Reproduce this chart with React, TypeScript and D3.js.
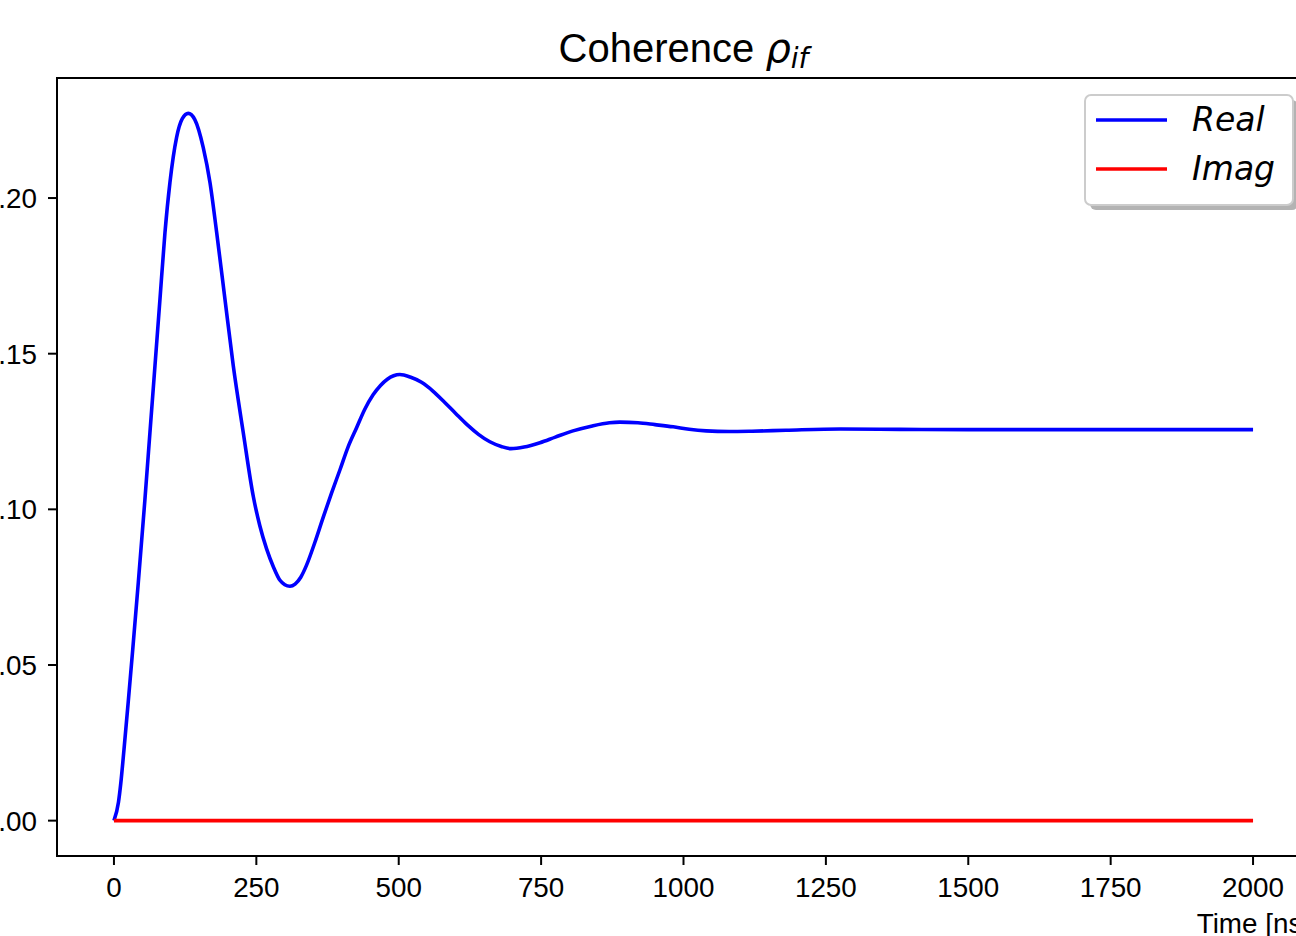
import React, { useEffect, useRef } from "react";
import * as d3 from "d3";

// time [ns] and real part
const realTimes = [0, 8, 12, 17.6, 25, 33, 42.7, 54.4, 63.2, 72, 80.8, 89.6, 98.3, 110, 120, 130.5, 142, 156.8, 168.6, 180.3, 194.9, 209.5, 227, 244.6, 256, 268, 280, 291.5, 300, 309, 318, 328, 338, 353, 367.5, 382, 397, 411, 426, 440, 455, 468, 480, 491, 502, 520, 540, 560, 580, 600, 620, 640, 660, 680, 697, 720, 748, 775, 806, 840, 870, 888, 920, 950, 982, 1010, 1040, 1080, 1120, 1180, 1275, 1380, 1500, 1750, 2000];
const realValues = [0, 0.006, 0.012, 0.0228, 0.038, 0.055, 0.0764, 0.1032, 0.1247, 0.1461, 0.1675, 0.189, 0.205, 0.2195, 0.2255, 0.2272, 0.2252, 0.2162, 0.205, 0.189, 0.1675, 0.1461, 0.1247, 0.1042, 0.0948, 0.0873, 0.0815, 0.0772, 0.0758, 0.0753, 0.076, 0.0782, 0.082, 0.0895, 0.0975, 0.1052, 0.1128, 0.12, 0.1262, 0.132, 0.1368, 0.1398, 0.1418, 0.1429, 0.1433, 0.1425, 0.1408, 0.138, 0.1345, 0.1308, 0.1272, 0.1241, 0.1217, 0.1202, 0.1195, 0.12, 0.1214, 0.1232, 0.1252, 0.1268, 0.1278, 0.128, 0.1278, 0.1272, 0.1265, 0.1257, 0.1252, 0.125, 0.1251, 0.1254, 0.1258, 0.1257, 0.1256, 0.1256, 0.1256];
const imagTimes = [0, 2000];
const imagValues = [0, 0];

const xTicks = [0, 250, 500, 750, 1000, 1250, 1500, 1750, 2000];
const yTicks = [0, 0.05, 0.1, 0.15, 0.2];

const W = 1296;
const H = 936;

export default function App() {
  const ref = useRef<SVGSVGElement>(null);

  useEffect(() => {
    const left = 57, right = 1310, top = 78, bottom = 856;
    const svg = d3.select(ref.current);
    svg.selectAll("*").remove();

    const x = d3.scaleLinear().domain([-100, 2100]).range([left, right]);
    const vmax = d3.max(realValues) as number;
    const y = d3.scaleLinear().domain([-vmax * 0.05, vmax * 1.05]).range([bottom, top]);

    svg.append("rect").attr("width", W).attr("height", H).attr("fill", "white");

    const line = d3
      .line<[number, number]>()
      .x((d) => x(d[0]))
      .y((d) => y(d[1]))
      .curve(d3.curveMonotoneX);

    const realData = realTimes.map((t, i) => [t, realValues[i]] as [number, number]);
    const imagData = imagTimes.map((t, i) => [t, imagValues[i]] as [number, number]);

    svg.append("path").datum(realData).attr("d", line).attr("fill", "none").attr("stroke", "#0000ff").attr("stroke-width", 3.6);
    svg.append("path").datum(imagData).attr("d", line).attr("fill", "none").attr("stroke", "#ff0000").attr("stroke-width", 3.6);

    // frame
    svg.append("rect")
      .attr("x", left).attr("y", top)
      .attr("width", right - left).attr("height", bottom - top)
      .attr("fill", "none").attr("stroke", "black").attr("stroke-width", 2);

    const font = "Liberation Sans, Arial, sans-serif";

    const gx = svg.append("g");
    xTicks.forEach((t) => {
      gx.append("line").attr("x1", x(t)).attr("x2", x(t)).attr("y1", bottom).attr("y2", bottom + 9).attr("stroke", "black").attr("stroke-width", 2);
      gx.append("text").attr("x", x(t)).attr("y", 897).attr("text-anchor", "middle")
        .attr("font-family", font).attr("font-size", 27.8).text(String(t));
    });

    const gy = svg.append("g");
    yTicks.forEach((v) => {
      gy.append("line").attr("x1", left - 9).attr("x2", left).attr("y1", y(v)).attr("y2", y(v)).attr("stroke", "black").attr("stroke-width", 2);
      gy.append("text").attr("x", 37).attr("y", y(v)).attr("dy", "0.36em").attr("text-anchor", "end")
        .attr("font-family", font).attr("font-size", 27.8).text(d3.format(".2f")(v));
    });

    svg.append("text").attr("x", right).attr("y", 933).attr("text-anchor", "end")
      .attr("font-family", font).attr("font-size", 27.8).text("Time [ns]");

    // title
    const title = svg.append("text").attr("x", (left + right) / 2).attr("y", 62)
      .attr("text-anchor", "middle").attr("font-family", font).attr("font-size", 40);
    title.append("tspan").text("Coherence ");
    title.append("tspan").attr("font-family", "DejaVu Sans").attr("font-style", "italic").text("ρ");
    title.append("tspan").attr("font-family", "DejaVu Sans").attr("font-style", "italic")
      .attr("font-size", 28).attr("dy", 6).text("if");

    // legend
    const lg = svg.append("g");
    lg.append("rect").attr("x", 1090).attr("y", 100).attr("width", 208).attr("height", 110)
      .attr("rx", 6).attr("fill", "#b3b3b3");
    lg.append("rect").attr("x", 1085).attr("y", 95).attr("width", 208).attr("height", 110)
      .attr("rx", 6).attr("fill", "white").attr("stroke", "#cccccc").attr("stroke-width", 2);
    const entries = [
      { label: "Real", color: "#0000ff", yy: 120 },
      { label: "Imag", color: "#ff0000", yy: 169 },
    ];
    entries.forEach((e) => {
      lg.append("line").attr("x1", 1096).attr("x2", 1167).attr("y1", e.yy).attr("y2", e.yy)
        .attr("stroke", e.color).attr("stroke-width", 3.6);
      lg.append("text").attr("x", 1192).attr("y", e.yy + 11)
        .attr("font-family", "DejaVu Sans").attr("font-style", "italic").attr("font-size", 33)
        .text(e.label);
    });
  }, []);

  return (
    <div style={{ position: "fixed", left: 0, top: 0 }}>
      <svg ref={ref} width={W} height={H} style={{ display: "block" }} />
    </div>
  );
}
